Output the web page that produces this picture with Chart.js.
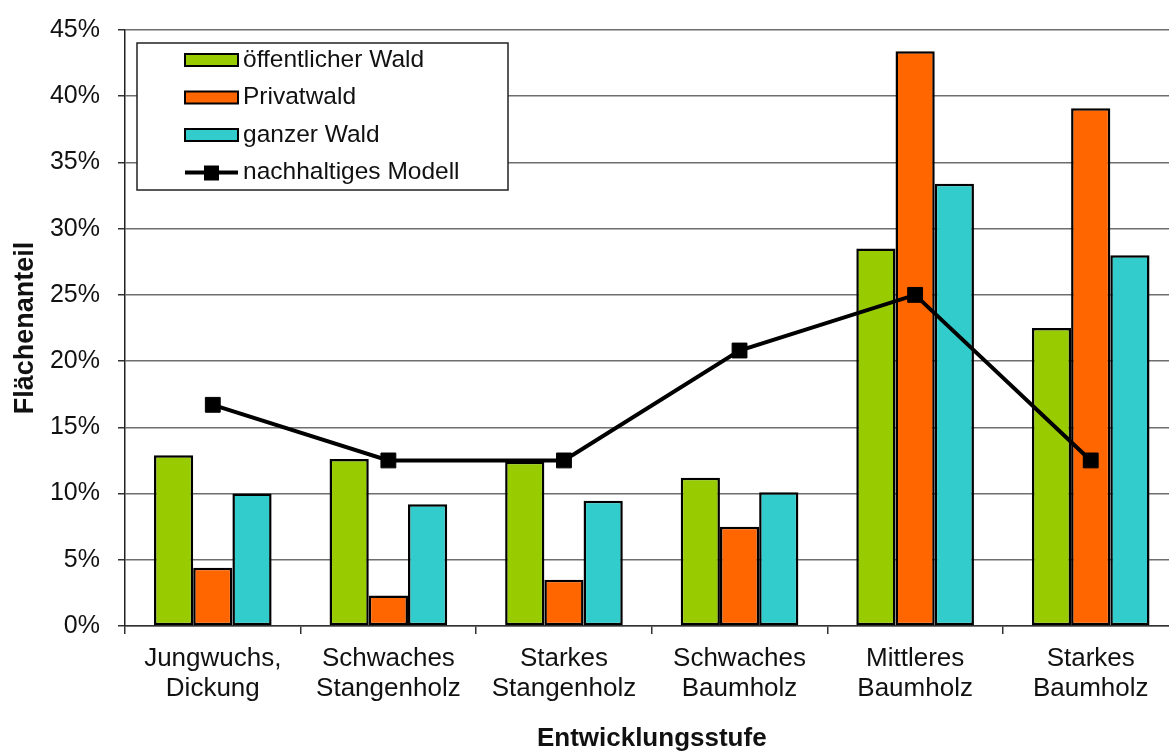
<!DOCTYPE html>
<html>
<head>
<meta charset="utf-8">
<script src="https://cdn.jsdelivr.net/npm/chart.js@4.4.1/dist/chart.umd.min.js"></script>
<style>
  html, body { margin: 0; padding: 0; background: #fff; overflow: hidden; }
  canvas { display: block; }
</style>
</head>
<body>
<canvas id="chart" width="1190" height="751"></canvas>
<script>
// Daten (Flächenanteil in %)
const categories = [
  ['Jungwuchs,', 'Dickung'],
  ['Schwaches', 'Stangenholz'],
  ['Starkes', 'Stangenholz'],
  ['Schwaches', 'Baumholz'],
  ['Mittleres', 'Baumholz'],
  ['Starkes', 'Baumholz']
];
const seriesNames = ['öffentlicher Wald', 'Privatwald', 'ganzer Wald', 'nachhaltiges Modell'];
const oeffentlich = [12.9, 12.6, 12.4, 11.2, 28.5, 22.5];
const privat = [4.4, 2.3, 3.5, 7.5, 43.4, 39.1];
const ganz = [10.0, 9.2, 9.45, 10.1, 33.4, 28.0];
const modell = [16.7, 12.5, 12.5, 20.8, 25.0, 12.5];
const yTicks = [0, 5, 10, 15, 20, 25, 30, 35, 40, 45];

const colors = ['#99CC00', '#FF6600', '#33CCCC', '#000000'];
const FONT = 'Arial, "Liberation Sans", sans-serif';

// Legende als Kasten innerhalb der Zeichenfläche
const boxLegend = {
  id: 'boxLegend',
  afterDraw(chart) {
    const ctx = chart.ctx;
    const x0 = 137, y0 = 43, w = 371, h = 147;
    ctx.save();
    ctx.strokeStyle = '#222';
    ctx.lineWidth = 1.5;
    ctx.fillStyle = '#fff';
    ctx.fillRect(x0, y0, w, h);
    ctx.strokeRect(x0, y0, w, h);

    chart.data.datasets.forEach((ds, i) => {
      const cy = 60 + i * 37.5;
      if (ds.type === 'line') {
        ctx.strokeStyle = '#000';
        ctx.lineWidth = 4;
        ctx.beginPath();
        ctx.moveTo(185, cy);
        ctx.lineTo(238, cy);
        ctx.stroke();
        ctx.fillStyle = '#000';
        ctx.fillRect(204, cy - 7, 15, 15);
      } else {
        ctx.fillStyle = ds.backgroundColor;
        ctx.fillRect(185, cy - 6, 53, 12);
        ctx.strokeStyle = '#000';
        ctx.lineWidth = 2;
        ctx.strokeRect(185, cy - 6, 53, 12);
      }
      ctx.fillStyle = '#111';
      ctx.font = '24.5px ' + FONT;
      ctx.textBaseline = 'middle';
      ctx.textAlign = 'left';
      ctx.fillText(ds.label, 243, cy);
    });
    ctx.restore();
  }
};

const barStyle = { borderColor: '#000', borderWidth: 2.5, borderSkipped: false, order: 1 };

new Chart(document.getElementById('chart').getContext('2d'), {
  type: 'bar',
  data: {
    labels: categories,
    datasets: [
      { label: seriesNames[0], data: oeffentlich, backgroundColor: colors[0], ...barStyle },
      { label: seriesNames[1], data: privat, backgroundColor: colors[1], ...barStyle },
      { label: seriesNames[2], data: ganz, backgroundColor: colors[2], ...barStyle },
      {
        type: 'line',
        label: seriesNames[3],
        data: modell,
        borderColor: '#000',
        borderWidth: 4,
        backgroundColor: '#000',
        pointStyle: 'rect',
        pointRadius: 10.5,
        pointBorderWidth: 1,
        pointBorderColor: '#000',
        pointBackgroundColor: '#000',
        tension: 0,
        order: 0
      }
    ]
  },
  options: {
    responsive: false,
    animation: false,
    layout: { padding: { top: 25, right: 1, bottom: 0, left: 0 } },
    datasets: { bar: { categoryPercentage: 0.67, barPercentage: 1.0 } },
    plugins: {
      legend: { display: false },
      tooltip: { enabled: false }
    },
    scales: {
      x: {
        offset: true,
        grid: {
          offset: true,
          drawOnChartArea: false,
          drawTicks: true,
          tickLength: 8,
          color: '#333',
          lineWidth: 1.5
        },
        border: { color: '#333', width: 1.5 },
        ticks: {
          autoSkip: false,
          maxRotation: 0,
          padding: 10,
          color: '#111',
          font: { family: FONT, size: 26, lineHeight: 1.15 }
        },
        title: {
          display: true,
          text: 'Entwicklungsstufe',
          color: '#111',
          font: { family: FONT, size: 26, weight: 'bold', lineHeight: 0.9 },
          padding: { top: 0, bottom: 0 }
        },
        afterFit(scale) { scale.height = 125; }
      },
      y: {
        min: 0,
        max: 45,
        afterBuildTicks(scale) { scale.ticks = yTicks.map(v => ({ value: v })); },
        grid: {
          color: '#6e6e6e',
          lineWidth: 1.5,
          tickLength: 7,
          tickColor: '#333'
        },
        border: { color: '#222', width: 1.5 },
        ticks: {
          padding: 18,
          color: '#111',
          font: { family: FONT, size: 25, lineHeight: 0.96 },
          callback: v => v + '%'
        },
        title: {
          display: true,
          text: 'Flächenanteil',
          color: '#111',
          font: { family: FONT, size: 27, weight: 'bold', lineHeight: 1.2 },
          padding: { top: 9, bottom: 0 }
        },
        afterFit(scale) { scale.width = 125; }
      }
    }
  },
  plugins: [boxLegend]
});
</script>
</body>
</html>
